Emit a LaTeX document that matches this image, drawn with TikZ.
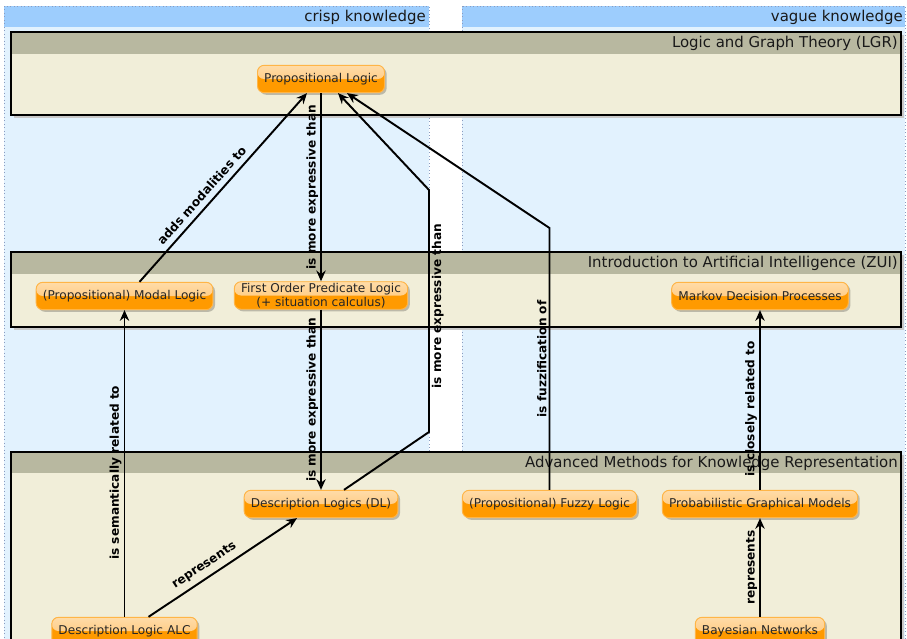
\documentclass[tikz,border=0pt]{standalone}
\usepackage{fontspec}
\setmainfont{DejaVu Sans}
\usetikzlibrary{calc,shadows,arrows.meta}

\definecolor{laneHead}{HTML}{9DCDFD}
\definecolor{laneBody}{HTML}{E2F2FE}
\definecolor{laneEdge}{HTML}{8A9CC0}
\definecolor{poolHead}{HTML}{B8B8A0}
\definecolor{poolBody}{HTML}{F1EED9}
\definecolor{poolShadow}{HTML}{C9C9C9}
\definecolor{nodeEdge}{HTML}{FFB547}
\definecolor{nodeDark}{HTML}{FF9A00}
\definecolor{nodeTop}{HTML}{FFDCA8}
\definecolor{nodeMid}{HTML}{FFC06A}

\tikzset{
  x=0.75pt, y=-0.75pt,
  concept/.style={
    draw=nodeEdge, line width=0.7pt, rounded corners=5pt, fill=nodeDark,
    minimum height=20.5pt, inner xsep=5pt, inner ysep=1pt, align=center,
    font=\fontsize{9.1}{10.5}\selectfont, text=black!85,
    drop shadow={shadow xshift=1.6pt, shadow yshift=-1.6pt, fill=black, opacity=0.22},
    path picture={
      \fill[top color=nodeTop, bottom color=nodeMid]
        (path picture bounding box.north west) rectangle
        (path picture bounding box.east);
    }
  },
  rel/.style={line width=1.45pt, -{Stealth[length=8pt,width=7pt]}},
  lbl/.style={font=\bfseries\fontsize{9.1}{10}\selectfont, inner sep=1.5pt, text=black},
  headtext/.style={font=\fontsize{11.2}{13}\selectfont, anchor=east, inner sep=0pt, text=black!90},
}

\begin{document}
\begin{tikzpicture}
\useasboundingbox (0,0) rectangle (907,639);
\clip (0,0) rectangle (907,639);
\fill[white] (0,0) rectangle (907,639);

% swimlanes
\fill[laneBody] (4,6) rectangle (429,680);
\fill[laneHead] (4,6) rectangle (429,27);
\draw[laneEdge, dotted, line width=0.6pt] (4,6) rectangle (429,680);
\node[headtext] at (426,17) {crisp knowledge};

\fill[laneBody] (462,6) rectangle (905,680);
\fill[laneHead] (462,6) rectangle (905,27);
\draw[laneEdge, dotted, line width=0.6pt] (462,6) rectangle (905,680);
\node[headtext] at (903,17) {vague knowledge};

% course pools
\fill[poolShadow] (14,35) rectangle (904,118);
\fill[poolBody] (11,32) rectangle (901,115);
\fill[poolHead] (11,32) rectangle (901,54);
\draw[line width=0.8pt] (11,32) rectangle (901,115);
\node[headtext] at (898,43.5) {Logic and Graph Theory (LGR)};

\fill[poolShadow] (14,255) rectangle (904,330);
\fill[poolBody] (11,252) rectangle (901,327);
\fill[poolHead] (11,252) rectangle (901,274);
\draw[line width=0.8pt] (11,252) rectangle (901,327);
\node[headtext] at (898,263.5) {Introduction to Artificial Intelligence (ZUI)};

\fill[poolShadow] (14,455) rectangle (904,680);
\fill[poolBody] (11,452) rectangle (901,680);
\fill[poolHead] (11,452) rectangle (901,473);
\draw[line width=0.8pt] (11,452) rectangle (901,680);
\node[headtext] at (898,463) {Advanced Methods for Knowledge Representation};

% concepts
\node[concept] (pl)  at (321,79)  {Propositional Logic};
\node[concept] (ml)  at (124.5,296) {(Propositional) Modal Logic};
\node[concept] (fo)  at (321,295.5) {First Order Predicate Logic\\(+ situation calculus)};
\node[concept] (md)  at (760,296) {Markov Decision Processes};
\node[concept] (dl)  at (321,504) {Description Logics (DL)};
\node[concept] (fz)  at (549.5,504) {(Propositional) Fuzzy Logic};
\node[concept] (pg)  at (760,504) {Probabilistic Graphical Models};
\node[concept] (alc) at (124.5,631) {Description Logic ALC};
\node[concept] (bn)  at (760,631) {Bayesian Networks};

% bend points
\coordinate (dlup)  at (429,432);
\coordinate (dltop) at (429,190);
\coordinate (fzup)  at (549.5,228);

% relations
\draw[rel] ($(ml.north)+(15,0)$) -- node[lbl, sloped, above=2.5pt, pos=0.42] {adds modalities to} ($(pl.south)+(-14,0)$);
\draw[rel] (pl.south) -- node[lbl, rotate=90, anchor=south] {is more expressive than} (fo.north);
\draw[rel] (fo.south) -- node[lbl, rotate=90, anchor=south] {is more expressive than} (dl.north);
\draw[rel] ($(dl.north)+(23,0)$) -- (dlup) -- node[lbl, rotate=90, anchor=north, pos=0.52] {is more expressive than} (dltop) -- ($(pl.south)+(17,0)$);
\draw[rel] (fz.north) -- node[lbl, rotate=90, anchor=south, pos=0.5] {is fuzzification of} (fzup) -- ($(pl.south)+(26,0)$);
\draw[rel] (pg.north) -- node[lbl, rotate=90, anchor=south, pos=0.45] {is closely related to} (md.south);
\draw[rel] (alc.north) -- node[lbl, rotate=90, anchor=south, pos=0.47] {is semantically related to} (ml.south);
\draw[rel] ($(alc.north)+(24,0)$) -- node[lbl, sloped, above=2.5pt, pos=0.42] {represents} ($(dl.south)+(-24,0)$);
\draw[rel] (bn.north) -- node[lbl, rotate=90, anchor=south] {represents} (pg.south);
\end{tikzpicture}
\end{document}
